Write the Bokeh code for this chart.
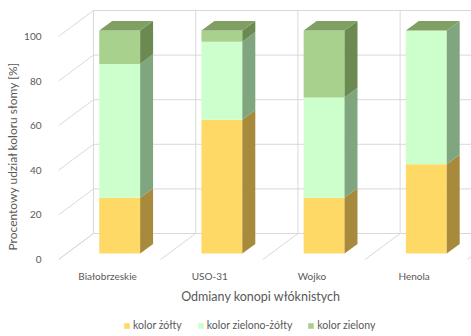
import numpy as np
from bokeh.plotting import figure
from bokeh.models import (ColumnDataSource, FixedTicker, Legend, LegendItem,
                          Range1d, Title)
from bokeh.core.properties import value
from bokeh.embed import file_html
from bokeh.resources import INLINE

# --- data -----------------------------------------------------------------
categories = ["Białobrzeskie", "USO-31", "Wojko", "Henola"]
kolor_zolty = [25, 60, 25, 40]
kolor_zielono_zolty = [60, 35, 45, 60]
kolor_zielony = [15, 5, 30, 0]
series_names = ["kolor żółty", "kolor zielono-żółty", "kolor zielony"]
y_ticks = [0, 20, 40, 60, 80, 100]

# face colours per series: front, side, top
front_colors = ["#FFD966", "#CCFFCC", "#A9D18E"]
side_colors = ["#A88A3C", "#7FA67F", "#6B8A52"]
top_colors = ["#C9A94E", "#8FB88F", "#7FA062"]

FONT = "Lato"
TEXT = "#595959"
GRID = "#D9D9D9"

# --- pseudo-3D projection settings ------------------------------------------
DX, DY = 0.3425, 11.66      # shift of the back plane (x in categories, y in %)
D_FRONT, D_BACK = 0.23, 0.60  # depth of bar front and back faces
BAR_OFF, BAR_W = 0.32, 0.40   # bar position inside its category slot


def shift(x, y, d):
    return x + d * DX, y + d * DY


p = figure(width=471, height=336, output_backend="svg", toolbar_location=None,
           x_range=Range1d(0, 4.041), y_range=Range1d(-34.53, 116.14),
           min_border_left=58, min_border_right=0, min_border_top=0,
           min_border_bottom=0)
p.outline_line_color = None
p.xgrid.visible = False
p.ygrid.visible = False
p.xaxis.visible = False

yax = p.yaxis[0]
yax.ticker = FixedTicker(ticks=y_ticks)
yax.axis_line_color = None
yax.major_tick_line_color = None
yax.minor_tick_line_color = None
yax.major_label_standoff = 11
yax.major_label_text_font = FONT
yax.major_label_text_font_size = "10px"
yax.major_label_text_color = TEXT

# vertical axis title, started from the bottom and lifted beside the scale
p.add_layout(Title(text="Procentowy udział koloru słomy [%]", align="left",
                   offset=86, standoff=4, text_font=FONT,
                   text_font_size="12px", text_font_style="normal",
                   text_color=TEXT), "left")

n = len(categories)
x_end = p.x_range.end

# back wall, side wall and floor lines
for v in y_ticks:
    p.line([DX, x_end], [v + DY, v + DY], line_color=GRID, line_width=1)
    p.line([0, DX], [v, v + DY], line_color=GRID, line_width=1)
for i in range(n + 1):
    p.line([i + DX, i + DX], [DY, 100 + DY], line_color=GRID, line_width=1)
    p.line([i, i + DX], [0, DY], line_color=GRID, line_width=1)

# stacked 3D bars
series = [kolor_zolty, kolor_zielono_zolty, kolor_zielony]
legend_items = []
bottoms = np.zeros(n)
for s, vals in enumerate(series):
    vals = np.array(vals, dtype=float)
    tops = bottoms + vals
    xl = np.arange(n) + BAR_OFF
    xr = xl + BAR_W
    fx_l, fb = shift(xl, bottoms, D_FRONT)
    fx_r, ft = shift(xr, tops, D_FRONT)
    front = p.quad(left=fx_l, right=fx_r, bottom=fb, top=ft,
                   fill_color=front_colors[s], line_color=None)
    legend_items.append(LegendItem(label=series_names[s], renderers=[front]))

    side_xs, side_ys = [], []
    for k in range(n):
        if vals[k] <= 0:
            continue
        x1, b1 = shift(xr[k], bottoms[k], D_FRONT)
        x2, b2 = shift(xr[k], bottoms[k], D_BACK)
        _, t2 = shift(xr[k], tops[k], D_BACK)
        _, t1 = shift(xr[k], tops[k], D_FRONT)
        side_xs.append([x1, x2, x2, x1])
        side_ys.append([b1, b2, t2, t1])
    if side_xs:
        p.patches(side_xs, side_ys, fill_color=side_colors[s], line_color=None)
    bottoms = tops

# top cap of each stack, drawn in the last series' colour
cap_xs, cap_ys = [], []
for k in range(n):
    xl, xr = k + BAR_OFF, k + BAR_OFF + BAR_W
    a = shift(xl, bottoms[k], D_FRONT)
    b = shift(xr, bottoms[k], D_FRONT)
    c = shift(xr, bottoms[k], D_BACK)
    d = shift(xl, bottoms[k], D_BACK)
    cap_xs.append([a[0], b[0], c[0], d[0]])
    cap_ys.append([a[1], b[1], c[1], d[1]])
p.patches(cap_xs, cap_ys, fill_color=top_colors[-1], line_color=None)

# category labels and horizontal axis title
cat_src = ColumnDataSource(dict(x=np.arange(n) + 0.48, y=np.zeros(n), t=categories))
p.text(x="x", y="y", text="t", source=cat_src, y_offset=17,
       text_align="center", text_baseline="middle",
       text_font=value(FONT), text_font_size="10px", text_color=TEXT)
p.text(x=[1.98], y=[0], text=["Odmiany konopi włóknistych"], y_offset=37,
       text_align="center", text_baseline="middle",
       text_font=value(FONT), text_font_size="12.5px", text_color=TEXT)

legend = Legend(items=legend_items, orientation="horizontal", location=(65, 5),
                glyph_width=7, glyph_height=7, label_height=12,
                label_standoff=3, spacing=15, padding=0, margin=0,
                border_line_color=None, background_fill_alpha=0,
                label_text_font=FONT, label_text_font_size="10.5px",
                label_text_color=TEXT)
p.add_layout(legend, "center")

open("out.html", "w").write(file_html(p, INLINE))
